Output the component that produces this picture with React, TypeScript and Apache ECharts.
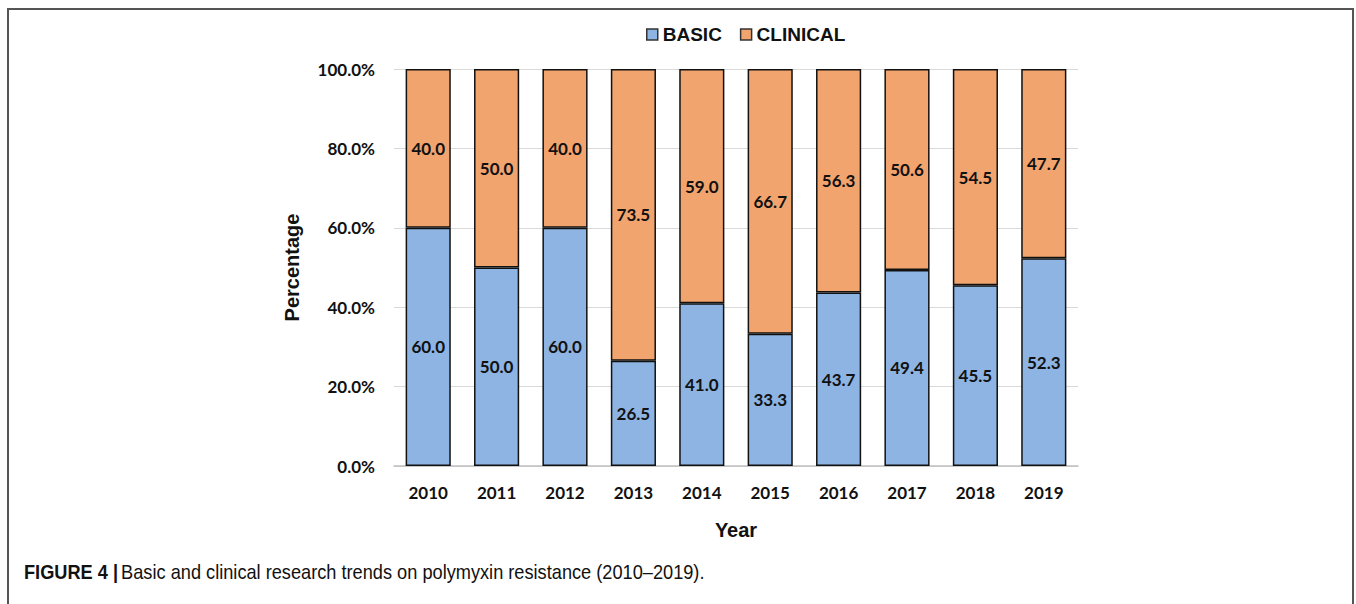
import React, { useEffect, useRef } from "react";
import * as echarts from "echarts";

const years = ["2010", "2011", "2012", "2013", "2014", "2015", "2016", "2017", "2018", "2019"];
const basic = [60.0, 50.0, 60.0, 26.5, 41.0, 33.3, 43.7, 49.4, 45.5, 52.3];
const clinical = [40.0, 50.0, 40.0, 73.5, 59.0, 66.7, 56.3, 50.6, 54.5, 47.7];
const yTicks = [0, 20, 40, 60, 80, 100];

const BLUE = "#8DB4E2";
const ORANGE = "#F2A46E";
const LABEL_FONT = "Lato, 'Open Sans', sans-serif";
const ARIAL = "'Liberation Sans', Arial, sans-serif";

export default function App() {
  const ref = useRef<HTMLDivElement>(null);
  useEffect(() => {
    document.body.style.margin = "0";
    const chart = echarts.init(ref.current!, null, { renderer: "svg" });
    const labelStyle = {
      show: true,
      position: "inside",
      color: "#111",
      fontFamily: LABEL_FONT,
      fontWeight: "bold",
      fontSize: 17,
      formatter: (p: any) => Number(p.value).toFixed(1),
    };
    chart.setOption({
      animation: false,
      backgroundColor: "#fff",
      legend: {
        top: 20,
        left: 641,
        itemWidth: 11,
        itemHeight: 11,
        itemGap: 18,
        icon: "rect",
        textStyle: { fontFamily: ARIAL, fontWeight: "bold", fontSize: 19, color: "#111", padding: [0, 0, 0, 0] },
        data: [
          { name: "BASIC", itemStyle: { color: BLUE, borderColor: "#333", borderWidth: 1.5 } },
          { name: "CLINICAL", itemStyle: { color: ORANGE, borderColor: "#333", borderWidth: 1.5 } },
        ],
      },
      grid: { left: 394, right: 278, top: 69, bottom: 138, containLabel: false },
      xAxis: {
        type: "category",
        data: years,
        name: "Year",
        nameLocation: "middle",
        nameGap: 54,
        nameTextStyle: { fontFamily: ARIAL, fontWeight: "bold", fontSize: 20, color: "#111" },
        axisLine: { show: true, lineStyle: { color: "#bfbfbf", width: 1.5 } },
        axisTick: { show: false },
        axisLabel: { margin: 18, fontFamily: LABEL_FONT, fontWeight: "bold", fontSize: 17, color: "#111" },
      },
      yAxis: {
        type: "value",
        min: yTicks[0],
        max: yTicks[yTicks.length - 1],
        interval: 20,
        name: "Percentage",
        nameLocation: "middle",
        nameGap: 92,
        nameTextStyle: { fontFamily: ARIAL, fontWeight: "bold", fontSize: 20, color: "#111" },
        axisLine: { show: false },
        axisTick: { show: false },
        splitLine: { lineStyle: { color: "#d9d9d9", width: 1.2 } },
        axisLabel: {
          margin: 19,
          fontFamily: LABEL_FONT,
          fontWeight: "bold",
          fontSize: 17,
          color: "#111",
          formatter: (v: number) => v.toFixed(1) + "%",
        },
      },
      series: [
        {
          name: "BASIC",
          type: "bar",
          stack: "total",
          data: basic,
          barWidth: "66%",
          itemStyle: { color: BLUE, borderColor: "#111", borderWidth: 1.5 },
          label: labelStyle,
        },
        {
          name: "CLINICAL",
          type: "bar",
          stack: "total",
          data: clinical,
          barWidth: "66%",
          itemStyle: { color: ORANGE, borderColor: "#111", borderWidth: 1.5 },
          label: labelStyle,
        },
      ],
      graphic: [
        {
          type: "polyline",
          shape: { points: [[8, 604], [8, 9], [1353, 9], [1353, 604]] },
          style: { stroke: "#555", lineWidth: 2, fill: "none" },
          silent: true,
        },
        {
          type: "text",
          x: 24,
          y: 572,
          scaleX: 0.91,
          style: {
            text: "{b|FIGURE 4 |} {r|Basic and clinical research trends on polymyxin resistance (2010–2019).}",
            verticalAlign: "middle",
            rich: {
              b: { fontFamily: ARIAL, fontWeight: "bold", fontSize: 20, fill: "#111" },
              r: { fontFamily: ARIAL, fontSize: 20, fill: "#111" },
            },
          },
        },
      ],
    });
    return () => chart.dispose();
  }, []);
  return <div ref={ref} style={{ width: 1356, height: 604 }} />;
}
